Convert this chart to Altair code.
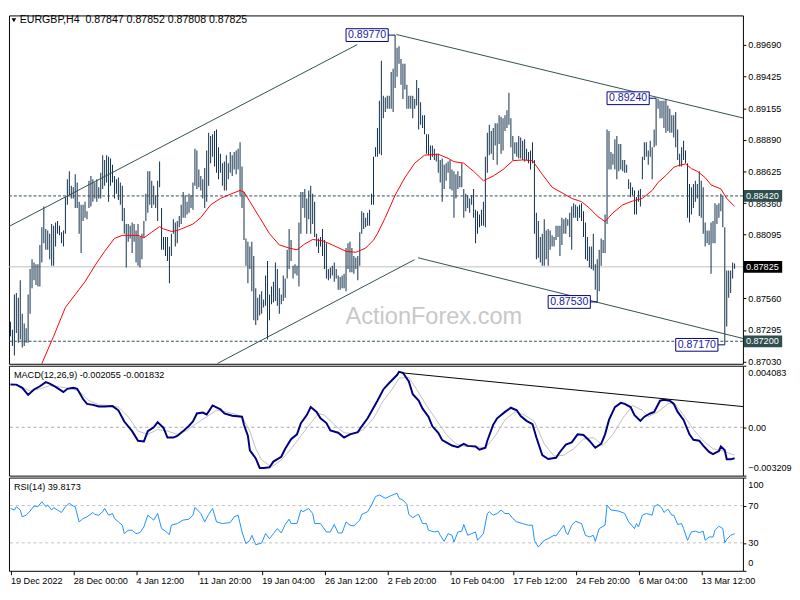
import json
import altair as alt
import pandas as pd

FONT = "Liberation Sans"
W = 748
H_MAIN, H_MACD, H_RSI = 355, 112, 95
X_DOM = [-0.75, 373.25]          # exactly 2 px per H4 bar
P_DOM = [0.87011, 0.89935]
M_DOM = [-0.003209, 0.004083]
R_DOM = [0, 100]

BAR_C = "#0f2e4a"
TL_C = "#2f4f4f"
NAVY = "#000080"

# ---------------- data ----------------
highs = [
    0.87363, 0.87296, 0.87592, 0.87605, 0.87565, 0.87713, 0.87430, 0.87350, 0.87309, 0.87592,
    0.87807, 0.87888, 0.87861, 0.87847, 0.87847, 0.88009, 0.88157, 0.88332, 0.88143, 0.88130,
    0.88103, 0.88184, 0.88170, 0.88197, 0.88210, 0.88170, 0.88116, 0.88130, 0.88412, 0.88560,
    0.88627, 0.88506, 0.88493, 0.88601, 0.88533, 0.88372, 0.88345, 0.88345, 0.88372, 0.88291,
    0.88547, 0.88587, 0.88560, 0.88533, 0.88560, 0.88493, 0.88614, 0.88762, 0.88722, 0.88762,
    0.88748, 0.88735, 0.88681, 0.88587, 0.88560, 0.88574, 0.88533, 0.88506, 0.88318, 0.88184,
    0.88184, 0.88170, 0.88197, 0.88184, 0.88130, 0.88184, 0.88076, 0.88103, 0.88210, 0.88439,
    0.88627, 0.88627, 0.88547, 0.88506, 0.88426, 0.88547, 0.88708, 0.88318, 0.88076, 0.88076,
    0.88076, 0.87995, 0.88103, 0.88224, 0.88197, 0.88210, 0.88251, 0.88345, 0.88453, 0.88426,
    0.88372, 0.88439, 0.88426, 0.88533, 0.88816, 0.88802, 0.88641, 0.88587, 0.88560, 0.88654,
    0.88802, 0.88950, 0.88923, 0.88937, 0.88964, 0.88977, 0.88829, 0.88775, 0.88695, 0.88708,
    0.88762, 0.88695, 0.88789, 0.88762, 0.88789, 0.88802, 0.88816, 0.88870, 0.88668, 0.88453,
    0.88063, 0.88036, 0.87995, 0.88036, 0.87915, 0.87646, 0.87565, 0.87592, 0.87619, 0.87551,
    0.87753, 0.87874, 0.87592, 0.87659, 0.87699, 0.87861, 0.87807, 0.87646, 0.87592, 0.87753,
    0.87726, 0.87968, 0.88143, 0.88049, 0.87834, 0.87847, 0.87834, 0.88197, 0.88453, 0.88453,
    0.88479, 0.88399, 0.88466, 0.88506, 0.88439, 0.88372, 0.88103, 0.88063, 0.88076, 0.88143,
    0.88049, 0.88022, 0.87807, 0.87820, 0.87834, 0.87861, 0.87807, 0.87753, 0.87740, 0.87753,
    0.87767, 0.87982, 0.88022, 0.88036, 0.87982, 0.87915, 0.87901, 0.87915, 0.88116, 0.88291,
    0.88278, 0.88237, 0.88278, 0.88305, 0.88439, 0.88748, 0.88829, 0.88991, 0.89219, 0.89555,
    0.89260, 0.89246, 0.89260, 0.89260, 0.89461, 0.89488, 0.89770, 0.89663, 0.89677, 0.89569,
    0.89529, 0.89529, 0.89354, 0.89260, 0.89260, 0.89260, 0.89233, 0.89394, 0.89327, 0.89206,
    0.89098, 0.89098, 0.88937, 0.88937, 0.88843, 0.88843, 0.88816, 0.88775, 0.88775, 0.88722,
    0.88735, 0.88681, 0.88695, 0.88708, 0.88722, 0.88641, 0.88627, 0.88601, 0.88627, 0.88587,
    0.88695, 0.88479, 0.88439, 0.88426, 0.88399, 0.88426, 0.88479, 0.88305, 0.88291, 0.88264,
    0.88305, 0.88372, 0.88748, 0.88950, 0.89017, 0.88964, 0.88991, 0.89031, 0.89031, 0.89098,
    0.89085, 0.89071, 0.89098, 0.89139, 0.89286, 0.89071, 0.88923, 0.88870, 0.88870, 0.88923,
    0.88910, 0.88883, 0.88896, 0.88816, 0.88789, 0.88802, 0.88870, 0.88722, 0.88278, 0.88210,
    0.88076, 0.88103, 0.88224, 0.88130, 0.88143, 0.88130, 0.88089, 0.88076, 0.88170, 0.88170,
    0.88170, 0.88237, 0.88224, 0.88237, 0.88224, 0.88278, 0.88332, 0.88358, 0.88345, 0.88332,
    0.88345, 0.88358, 0.88291, 0.88197, 0.88076, 0.87995, 0.87995, 0.88103, 0.87847, 0.87888,
    0.87968, 0.88063, 0.88049, 0.88264, 0.88977, 0.88964, 0.88789, 0.88775, 0.88896, 0.88923,
    0.88856, 0.88856, 0.88722, 0.88722, 0.88681, 0.88560, 0.88533, 0.88493, 0.88466, 0.88412,
    0.88466, 0.88479, 0.88748, 0.88870, 0.88870, 0.88802, 0.88883, 0.88829, 0.88977, 0.89240,
    0.89235, 0.89219, 0.89219, 0.89219, 0.89233, 0.89179, 0.89152, 0.89098, 0.89098, 0.89125,
    0.88977, 0.88775, 0.88829, 0.88883, 0.88802, 0.88695, 0.88520, 0.88493, 0.88520, 0.88547,
    0.88520, 0.88627, 0.88547, 0.88493, 0.88197, 0.88130, 0.88130, 0.88197, 0.88210, 0.88358,
    0.88345, 0.88358, 0.88439, 0.88420, 0.88157, 0.87794, 0.87794, 0.87794, 0.87861, 0.87852,
]
lows = [
    0.87242, 0.87161, 0.87081, 0.87269, 0.87188, 0.87215, 0.87148, 0.87161, 0.87188, 0.87188,
    0.87430, 0.87646, 0.87713, 0.87672, 0.87659, 0.87659, 0.87861, 0.88022, 0.87968, 0.87968,
    0.87888, 0.87834, 0.87834, 0.87995, 0.88103, 0.88089, 0.88022, 0.87995, 0.88103, 0.88345,
    0.88426, 0.88399, 0.88399, 0.88318, 0.88318, 0.88103, 0.87941, 0.88210, 0.88237, 0.88224,
    0.88318, 0.88332, 0.88372, 0.88399, 0.88372, 0.88399, 0.88399, 0.88479, 0.88506, 0.88533,
    0.88372, 0.88506, 0.88533, 0.88399, 0.88439, 0.88385, 0.88345, 0.88210, 0.88103, 0.87820,
    0.88036, 0.88063, 0.87941, 0.88036, 0.87861, 0.87834, 0.87820, 0.87888, 0.88076, 0.88210,
    0.88278, 0.88345, 0.88318, 0.88345, 0.88318, 0.88210, 0.88493, 0.87968, 0.87968, 0.87915,
    0.87874, 0.87686, 0.87915, 0.88103, 0.87995, 0.88022, 0.88157, 0.88184, 0.88237, 0.88237,
    0.88264, 0.88278, 0.88318, 0.88305, 0.88506, 0.88479, 0.88493, 0.88466, 0.88399, 0.88318,
    0.88372, 0.88506, 0.88695, 0.88748, 0.88668, 0.88614, 0.88560, 0.88614, 0.88506, 0.88466,
    0.88466, 0.88560, 0.88614, 0.88587, 0.88641, 0.88601, 0.88641, 0.88426, 0.88318, 0.88049,
    0.87834, 0.87686, 0.87807, 0.87619, 0.87377, 0.87336, 0.87377, 0.87417, 0.87430, 0.87484,
    0.87498, 0.87215, 0.87377, 0.87511, 0.87525, 0.87538, 0.87498, 0.87430, 0.87511, 0.87538,
    0.87565, 0.87726, 0.87807, 0.87874, 0.87726, 0.87767, 0.87753, 0.87659, 0.88103, 0.88318,
    0.88237, 0.88103, 0.88224, 0.88103, 0.88184, 0.88076, 0.87995, 0.87941, 0.87995, 0.87915,
    0.87807, 0.87726, 0.87713, 0.87726, 0.87753, 0.87699, 0.87726, 0.87632, 0.87632, 0.87646,
    0.87646, 0.87619, 0.87807, 0.87780, 0.87780, 0.87767, 0.87807, 0.87713, 0.87834, 0.88103,
    0.88143, 0.88157, 0.88170, 0.88170, 0.88345, 0.88345, 0.88748, 0.88748, 0.88775, 0.88762,
    0.89071, 0.89125, 0.89152, 0.89152, 0.89152, 0.89125, 0.89327, 0.89421, 0.89529, 0.89354,
    0.89233, 0.89313, 0.89152, 0.89152, 0.89152, 0.89071, 0.89152, 0.89179, 0.88977, 0.89017,
    0.88991, 0.88937, 0.88775, 0.88762, 0.88722, 0.88748, 0.88722, 0.88708, 0.88614, 0.88533,
    0.88372, 0.88479, 0.88547, 0.88614, 0.88479, 0.88466, 0.88237, 0.88399, 0.88479, 0.88493,
    0.88493, 0.88237, 0.88291, 0.88318, 0.88278, 0.88345, 0.88237, 0.88022, 0.88103, 0.88157,
    0.88170, 0.88170, 0.88157, 0.88614, 0.88762, 0.88775, 0.88722, 0.88843, 0.88681, 0.88856,
    0.88775, 0.88802, 0.88964, 0.88991, 0.89017, 0.88829, 0.88722, 0.88775, 0.88748, 0.88735,
    0.88735, 0.88722, 0.88708, 0.88722, 0.88695, 0.88641, 0.88695, 0.88103, 0.87888, 0.87901,
    0.87861, 0.87834, 0.87834, 0.87888, 0.87834, 0.87968, 0.87995, 0.87995, 0.88049, 0.88076,
    0.87915, 0.88009, 0.88103, 0.88103, 0.88170, 0.88076, 0.87968, 0.88237, 0.88237, 0.88210,
    0.88237, 0.88210, 0.88076, 0.87888, 0.87874, 0.87820, 0.87807, 0.87794, 0.87632, 0.87530,
    0.87619, 0.87834, 0.87941, 0.87941, 0.88184, 0.88641, 0.88641, 0.88681, 0.88641, 0.88560,
    0.88627, 0.88641, 0.88627, 0.88614, 0.88614, 0.88479, 0.88412, 0.88426, 0.88264, 0.88264,
    0.88372, 0.88332, 0.88560, 0.88722, 0.88748, 0.88681, 0.88748, 0.88560, 0.88829, 0.88843,
    0.89152, 0.89071, 0.89071, 0.88991, 0.88950, 0.88964, 0.88950, 0.88950, 0.88910, 0.88829,
    0.88722, 0.88668, 0.88668, 0.88722, 0.88695, 0.88237, 0.88197, 0.88264, 0.88318, 0.88372,
    0.88399, 0.88251, 0.88237, 0.88103, 0.87995, 0.88022, 0.88009, 0.87767, 0.88022, 0.88022,
    0.88184, 0.88237, 0.88291, 0.88157, 0.87170, 0.87323, 0.87565, 0.87605, 0.87726, 0.87808,
]

ma_idx = [14, 16, 22, 28, 33, 38, 43, 48, 53, 57, 65, 68, 72, 76, 78, 82, 85, 88, 93, 97,
          102, 107, 112, 117, 119, 122, 127, 132, 137, 142, 146, 150, 154, 159, 164, 171, 176, 181, 185, 187,
          191, 196, 201, 206, 211, 218, 223, 226, 231, 236, 241, 246, 251, 256, 261, 266, 271, 276, 281, 286,
          291, 295, 299, 303, 307, 312, 317, 322, 327, 330, 334, 338, 340, 344, 347, 350, 354, 357, 362, 365, 369]
ma_val = [0.86946, 0.87013, 0.87242, 0.87484, 0.87592, 0.87700, 0.87834, 0.87955, 0.88063, 0.88089,
          0.88089, 0.88068, 0.88116, 0.88162, 0.88143, 0.88122, 0.88130, 0.88149, 0.88184, 0.88238,
          0.88345, 0.88399, 0.88434, 0.88466, 0.88453, 0.88372, 0.88238, 0.88103, 0.88009, 0.87982,
          0.87968, 0.88017, 0.88054, 0.88044, 0.88009, 0.87955, 0.87947, 0.87982, 0.88049, 0.88103,
          0.88238, 0.88426, 0.88574, 0.88695, 0.88762, 0.88770, 0.88735, 0.88708, 0.88695, 0.88627,
          0.88547, 0.88587, 0.88641, 0.88716, 0.88722, 0.88716, 0.88601, 0.88493, 0.88447, 0.88399,
          0.88372, 0.88318, 0.88251, 0.88205, 0.88278, 0.88345, 0.88377, 0.88399, 0.88466, 0.88533,
          0.88592, 0.88660, 0.88673, 0.88689, 0.88649, 0.88627, 0.88574, 0.88512, 0.88479, 0.88399, 0.88332]

macd_idx = [0, 3, 6, 9, 12, 15, 18, 20, 23, 27, 29, 32, 34, 37, 39, 42, 45, 48, 52, 55,
            58, 62, 65, 68, 70, 73, 75, 78, 80, 83, 85, 88, 91, 93, 95, 98, 100, 103, 107, 109,
            113, 118, 119, 121, 122, 125, 127, 129, 132, 134, 138, 140, 143, 146, 148, 151, 153, 156, 158, 161,
            163, 167, 170, 173, 177, 179, 182, 184, 187, 190, 193, 197, 198, 200, 203, 205, 208, 210, 213, 215,
            218, 220, 223, 225, 228, 231, 233, 237, 239, 242, 243, 246, 248, 252, 255, 258, 260, 263, 266, 268,
            271, 274, 278, 280, 283, 286, 289, 292, 295, 298, 301, 303, 305, 308, 311, 313, 316, 318, 321, 323,
            326, 328, 331, 333, 336, 338, 340, 343, 346, 348, 351, 353, 356, 358, 361, 362, 364, 365, 367, 369]
macd_val = [0.002829, 0.002829, 0.002616, 0.002148, 0.002510, 0.002723, 0.002999, 0.002893, 0.002680, 0.002340,
            0.002552, 0.002616, 0.002552, 0.001872, 0.001553, 0.001489, 0.001383, 0.001383, 0.001404, 0.001127,
            0.000383, -0.000255, -0.000893, -0.000936, -0.000255, 0.0, 0.000340, -0.000043, -0.000681, -0.000681,
            -0.000574, -0.000255, 0.000106, 0.000383, 0.000915, 0.000978, 0.000851, 0.001446, 0.001191, 0.000915,
            0.000766, 0.000702, 0.000170, -0.000574, -0.001531, -0.002063, -0.002701, -0.002701, -0.002659, -0.002276,
            -0.001957, -0.001425, -0.000787, -0.000468, 0.000277, 0.000808, 0.001340, 0.001021, 0.000596, 0.000277,
            -0.000213, -0.000362, -0.000681, -0.000468, -0.000319, 0.000064, 0.000596, 0.001064, 0.001765, 0.002510,
            0.002935, 0.003467, 0.003680, 0.003616, 0.003042, 0.002191, 0.001765, 0.001234, 0.000702, 0.000064,
            -0.000362, -0.000851, -0.001064, -0.001212, -0.001319, -0.001106, -0.001234, -0.001276, -0.001489, -0.001361,
            -0.000893, 0.000170, 0.000596, 0.001021, 0.001297, 0.001127, 0.000744, 0.000425, 0.000213, -0.000681,
            -0.001850, -0.002106, -0.002021, -0.001638, -0.001149, -0.001000, -0.000468, -0.000510, -0.000893, -0.001361,
            -0.001106, -0.000468, 0.000489, 0.001340, 0.001617, 0.001553, 0.001340, 0.000808, 0.000425, 0.000702,
            0.000915, 0.001021, 0.001765, 0.001829, 0.001765, 0.001553, 0.001021, 0.000489, -0.000468, -0.000830,
            -0.000893, -0.001212, -0.001638, -0.001787, -0.001574, -0.001276, -0.001531, -0.002127, -0.002127, -0.002055]

sig_idx = [0, 5, 10, 15, 20, 25, 30, 35, 40, 45, 50, 55, 60, 65, 70, 75, 80, 85, 90, 95,
           100, 105, 110, 115, 118, 122, 125, 128, 133, 138, 143, 148, 153, 157, 160, 165, 170, 175, 180, 185,
           190, 195, 198, 203, 207, 212, 217, 222, 227, 232, 237, 242, 247, 252, 257, 262, 267, 272, 277, 282,
           287, 292, 297, 302, 307, 312, 317, 322, 325, 330, 335, 338, 343, 348, 353, 358, 363, 368, 369]
sig_val = [0.002935, 0.002723, 0.002404, 0.002552, 0.002765, 0.002680, 0.002574, 0.002404, 0.001765, 0.001489,
           0.001446, 0.001340, 0.000702, -0.000255, -0.000468, -0.000149, -0.000255, -0.000468, -0.000213, 0.000277,
           0.000702, 0.001127, 0.001021, 0.000851, 0.000702, -0.000255, -0.001425, -0.002170, -0.002637, -0.002170,
           -0.001425, -0.000574, 0.000277, 0.000915, 0.000808, 0.000170, -0.000362, -0.000425, -0.000149, 0.000596,
           0.001765, 0.002616, 0.003254, 0.003318, 0.002510, 0.001446, 0.000489, -0.000468, -0.001106, -0.001276,
           -0.001276, -0.001361, -0.000574, 0.000489, 0.001021, 0.000808, 0.000383, -0.001106, -0.001914, -0.001850,
           -0.001425, -0.000787, -0.000681, -0.001212, -0.000468, 0.000596, 0.001446, 0.001127, 0.000702, 0.001021,
           0.001553, 0.001659, 0.000808, -0.000149, -0.000893, -0.001425, -0.001574, -0.001808, -0.001832]

rsi_idx = [0, 2, 3, 5, 6, 8, 10, 12, 14, 16, 18, 19, 21, 22, 24, 26, 28, 30, 32, 33,
           35, 37, 39, 42, 43, 45, 47, 48, 50, 52, 53, 55, 57, 58, 60, 62, 64, 66, 68, 70,
           72, 73, 75, 77, 79, 81, 82, 85, 88, 91, 93, 94, 97, 99, 101, 103, 105, 108, 112, 114,
           116, 118, 120, 122, 123, 125, 128, 130, 132, 134, 136, 138, 140, 142, 143, 146, 148, 149, 152, 154,
           155, 158, 161, 163, 165, 167, 169, 171, 173, 175, 178, 179, 182, 184, 186, 188, 191, 194, 197, 198,
           200, 202, 203, 205, 207, 208, 210, 212, 213, 216, 218, 219, 221, 223, 225, 226, 228, 230, 231, 233,
           235, 237, 238, 241, 243, 244, 246, 248, 250, 252, 254, 256, 258, 261, 264, 266, 267, 269, 272, 274,
           277, 278, 280, 282, 283, 284, 286, 288, 291, 293, 295, 297, 298, 300, 303, 304, 306, 310, 313, 315,
           318, 319, 320, 322, 324, 327, 328, 330, 332, 333, 335, 337, 338, 340, 342, 343, 345, 347, 349, 351,
           353, 354, 356, 358, 359, 361, 363, 364, 365, 367, 369]
rsi_val = [66.9, 65.2, 68.8, 65.2, 57.9, 59.7, 64.1, 69.5, 68.8, 74.2, 68.8, 70.6, 65.2, 67.7, 65.2, 62.6, 68.8, 72.4, 69.5, 68.8,
           52.5, 56.1, 57.9, 62.6, 60.5, 59.7, 63.4, 66.9, 59.7, 61.5, 56.1, 52.5, 48.9, 39.9, 43.5, 43.5, 39.9, 41.0, 47.1, 59.7,
           56.1, 54.4, 61.5, 45.3, 42.5, 38.8, 48.9, 50.7, 54.4, 55.4, 59.7, 68.0, 61.5, 52.5, 60.5, 66.9, 52.5, 50.7, 51.8, 57.9,
           59.7, 41.7, 29.1, 32.7, 38.1, 28.0, 29.8, 39.9, 34.5, 39.9, 45.3, 40.6, 49.7, 55.4, 50.7, 50.7, 65.2, 63.4, 66.9, 61.5,
           50.7, 50.7, 41.7, 41.7, 49.7, 40.6, 40.6, 52.5, 48.9, 48.2, 54.4, 60.5, 63.4, 70.6, 79.6, 81.4, 77.8, 80.7, 83.2, 77.8,
           75.9, 71.3, 60.5, 56.9, 59.7, 60.5, 50.7, 50.7, 43.5, 41.7, 42.5, 38.1, 31.6, 39.9, 38.1, 30.9, 41.7, 42.5, 49.7, 38.1,
           39.9, 41.7, 32.7, 39.9, 61.5, 63.4, 59.7, 61.5, 65.2, 61.5, 61.5, 56.1, 52.5, 50.7, 48.9, 48.9, 32.7, 25.5, 32.7, 34.5,
           38.1, 37.4, 43.5, 48.9, 41.7, 38.8, 48.9, 53.2, 50.7, 38.1, 36.3, 38.1, 31.6, 45.3, 48.9, 70.6, 65.2, 64.1, 61.5, 52.5,
           45.3, 50.7, 47.1, 59.7, 61.5, 59.7, 68.8, 71.3, 66.9, 62.6, 66.2, 59.7, 59.7, 49.7, 50.7, 45.3, 32.7, 41.7, 42.5, 41.0,
           42.5, 32.7, 36.3, 36.3, 43.5, 47.8, 45.3, 30.2, 33.8, 38.1, 39.8]

tick_idx = [0, 32, 64, 96, 128, 160, 192, 224, 256, 288, 320, 352]
tick_lbl = ["19 Dec 2022", "28 Dec 00:00", "4 Jan 12:00", "11 Jan 20:00", "19 Jan 04:00",
            "26 Jan 12:00", "2 Feb 20:00", "10 Feb 04:00", "17 Feb 12:00", "24 Feb 20:00",
            "6 Mar 04:00", "13 Mar 12:00"]
price_ticks = [0.89690, 0.89425, 0.89155, 0.88890, 0.88625, 0.88360, 0.88095,
               0.87825, 0.87560, 0.87295, 0.87030]
levels = [0.88420, 0.87200]
last_price = 0.87825
ohlc_last = [0.87847, 0.87852, 0.87808, 0.87825]
macd_last = [-0.002055, -0.001832]
rsi_last = 39.8173

# channel lines (bar index, price)
tl_x0 = [-0.6, 105.4, 207.7, 196.7]
tl_p0 = [0.88165, 0.87013, 0.87901, 0.89775]
tl_x1 = [176.7, 205.9, 375.85, 375.85]
tl_p1 = [0.89690, 0.87885, 0.87213, 0.89064]
# macd trend line
mtl_x = [199.2, 375.85]
mtl_v = [0.003615, 0.00134]
# labelled swing points
ann_idx = [196, 329, 299, 364]
ann_price = [0.89770, 0.89240, 0.87530, 0.87170]

# ---------------- frames ----------------
n = len(highs)
bars_df = pd.DataFrame({"idx": list(range(n)), "high": highs, "low": lows})
ma_df = pd.DataFrame({"idx": ma_idx, "ma": ma_val})
tl_df = pd.DataFrame({"x0": tl_x0, "p0": tl_p0, "x1": tl_x1, "p1": tl_p1})
lvl_df = pd.DataFrame({"p": levels, "lbl": [f"{v:.5f}" for v in levels]})
last_df = pd.DataFrame({"p": [last_price], "lbl": [f"{last_price:.5f}"]})
macd_df = pd.DataFrame({"idx": macd_idx, "v": macd_val})
sig_df = pd.DataFrame({"idx": sig_idx, "v": sig_val})
mtl_df = pd.DataFrame({"x0": [mtl_x[0]], "x1": [mtl_x[1]], "v0": [mtl_v[0]], "v1": [mtl_v[1]]})
rsi_df = pd.DataFrame({"idx": rsi_idx, "r": rsi_val})

PPX = (P_DOM[1] - P_DOM[0]) / H_MAIN
BPX = (X_DOM[1] - X_DOM[0]) / W
ann_df = pd.DataFrame({"idx": ann_idx, "p": ann_price})
ann_df["lbl"] = ann_df["p"].map(lambda v: f"{v:.5f}")
ann_df["xr"] = ann_df["idx"] - 7 * BPX
ann_df["xl"] = ann_df["xr"] - 43 * BPX
ann_df["yt"] = ann_df["p"] + 6.5 * PPX
ann_df["yb"] = ann_df["p"] - 6.5 * PPX

xs = alt.Scale(domain=X_DOM, nice=False, zero=False)
ps = alt.Scale(domain=P_DOM, nice=False, zero=False)
ms = alt.Scale(domain=M_DOM, nice=False, zero=False)
rs = alt.Scale(domain=R_DOM, nice=False, zero=False)

p_axis = alt.Axis(orient="right", values=price_ticks, format=".5f", title=None, labelOverlap=False)
m_axis = alt.Axis(orient="right", values=[M_DOM[0], 0, M_DOM[1]], title=None, labelOverlap=False,
                  labelExpr="datum.value == 0 ? '0.00' : format(datum.value, '.6f')",
                  labelFlush=True, labelFlushOffset=-3)
r_axis = alt.Axis(orient="right", values=[0, 30, 70, 100], title=None, labelOverlap=False,
                  labelFlush=True, labelFlushOffset=-3)
lbl_expr = f"{json.dumps(tick_lbl)}[indexof({json.dumps(tick_idx)}, datum.value)]"
x_axis = alt.Axis(values=tick_idx, labelExpr=lbl_expr, labelAlign="left", labelFlush=False,
                  labelOverlap=False, tickSize=4, labelPadding=2, title=None, domain=False)


def PX(f, axis=None):
    return alt.X(f, type="quantitative", scale=xs, axis=axis)


def PY(f):
    return alt.Y(f, type="quantitative", scale=ps, axis=p_axis)


def one(**kw):
    return alt.Chart(pd.DataFrame({"t": [kw.get("t", "")]}))


# ---------------- main panel ----------------
watermark = one(t="ActionForex.com").mark_text(font=FONT, fontSize=24, color="#c8c8c8").encode(
    x=alt.value(433), y=alt.value(307), text="t:N")
last_line = alt.Chart(last_df).mark_rule(color="#c0c0c0", strokeWidth=1).encode(y=PY("p"))
# each OHLC bar is a one-pixel column (half a bar slot) from low to high
bars = alt.Chart(bars_df).transform_calculate(
    xa="datum.idx - 0.25", xb="datum.idx + 0.25"
).mark_rect(color=BAR_C, opacity=1, clip=True).encode(
    x=PX("xa:Q"), x2="xb:Q", y=PY("low"), y2="high")
ma = alt.Chart(ma_df).mark_line(color="red", strokeWidth=1, clip=True).encode(x=PX("idx"), y=PY("ma"))
trend = alt.Chart(tl_df).mark_rule(color=TL_C, strokeWidth=1, clip=True).encode(
    x=PX("x0"), x2="x1", y=PY("p0"), y2="p1")
lvl_lines = alt.Chart(lvl_df).mark_rule(color=TL_C, strokeWidth=1, strokeDash=[3, 2]).encode(y=PY("p"))
ann_box = alt.Chart(ann_df).mark_rect(fill="white", stroke=NAVY, strokeWidth=1).encode(
    x=PX("xl"), x2="xr", y=PY("yb"), y2="yt")
ann_conn = alt.Chart(ann_df).mark_rule(color=NAVY, strokeWidth=1).encode(x=PX("xr"), x2="idx", y=PY("p"))
ann_txt = alt.Chart(ann_df).mark_text(align="right", baseline="middle", dx=-2, font=FONT,
                                      fontSize=10.8, color="#1a1aa0").encode(
    x=PX("xr"), y=PY("p"), text="lbl:N")
lvl_box = alt.Chart(lvl_df).mark_rule(color=TL_C, strokeWidth=12).encode(
    x=alt.value(W + 1), x2=alt.value(W + 40), y=PY("p"))
lvl_txt = alt.Chart(lvl_df).mark_text(align="left", baseline="middle", color="white", font=FONT,
                                      fontSize=9.3).encode(x=alt.value(W + 3), y=PY("p"), text="lbl:N")
last_box = alt.Chart(last_df).mark_rule(color="black", strokeWidth=12).encode(
    x=alt.value(W + 1), x2=alt.value(W + 40), y=PY("p"))
last_txt = alt.Chart(last_df).mark_text(align="left", baseline="middle", color="white", font=FONT,
                                        fontSize=9.3).encode(x=alt.value(W + 3), y=PY("p"), text="lbl:N")
hdr_text = "EURGBP,H4\u00a0\u00a0" + " ".join(f"{v:.5f}" for v in ohlc_last)
tri = one().mark_point(shape="triangle-down", filled=True, color="black", size=22, opacity=1).encode(
    x=alt.value(5), y=alt.value(5))
hdr = one(t=hdr_text).mark_text(align="left", baseline="middle", font=FONT, fontSize=10.8,
                                color="black").encode(x=alt.value(11), y=alt.value(5), text="t:N")

main = alt.layer(watermark, last_line, bars, ma, trend, lvl_lines, ann_conn, ann_box, ann_txt,
                 lvl_box, lvl_txt, last_box, last_txt, tri, hdr).properties(width=W, height=H_MAIN)

# ---------------- MACD panel ----------------
def MY(f):
    return alt.Y(f, type="quantitative", scale=ms, axis=m_axis)


zero_df = pd.DataFrame({"v": [0.0]})
m_zero = alt.Chart(zero_df).mark_rule(color="#a8a8a8", strokeDash=[3, 3]).encode(y=MY("v"))
m_sig = alt.Chart(sig_df).mark_line(color="#c0c0c0", strokeWidth=1, clip=True).encode(x=PX("idx"), y=MY("v"))
m_line = alt.Chart(macd_df).mark_line(color=NAVY, strokeWidth=2, clip=True).encode(x=PX("idx"), y=MY("v"))
m_tl = alt.Chart(mtl_df).mark_rule(color="black", strokeWidth=1, clip=True).encode(
    x=PX("x0"), x2="x1", y=MY("v0"), y2="v1")
m_hdr = one(t=f"MACD(12,26,9) {macd_last[0]:.6f} {macd_last[1]:.6f}").mark_text(
    align="left", baseline="middle", font=FONT, fontSize=9.3, color="black").encode(
    x=alt.value(5), y=alt.value(9), text="t:N")
macd = alt.layer(m_zero, m_sig, m_line, m_tl, m_hdr).properties(width=W, height=H_MACD)

# ---------------- RSI panel ----------------
def RY(f):
    return alt.Y(f, type="quantitative", scale=rs, axis=r_axis)


rl_df = pd.DataFrame({"r": [70, 30]})
r_lv = alt.Chart(rl_df).mark_rule(color="#c0c0c0", strokeDash=[3, 3]).encode(y=RY("r"))
r_line = alt.Chart(rsi_df).mark_line(color="#1e90ff", strokeWidth=1, clip=True).encode(
    x=PX("idx", x_axis), y=RY("r"))
r_hdr = one(t=f"RSI(14) {rsi_last:.4f}").mark_text(
    align="left", baseline="middle", font=FONT, fontSize=9.3, color="black").encode(
    x=alt.value(5), y=alt.value(10), text="t:N")
rsi = alt.layer(r_lv, r_line, r_hdr).properties(width=W, height=H_RSI)

chart = alt.vconcat(main, macd, rsi, spacing=2, bounds="flush").properties(
    padding={"left": 0, "top": 0, "right": 0, "bottom": 0}, background="white"
).configure_view(stroke="black", strokeWidth=1).configure_axis(
    labelFont=FONT, labelFontSize=9.3, labelColor="black", tickColor="black", tickSize=3,
    domain=False, grid=False, labelPadding=2)

chart.save("out.html", embed_options={"renderer": "svg", "actions": False})
